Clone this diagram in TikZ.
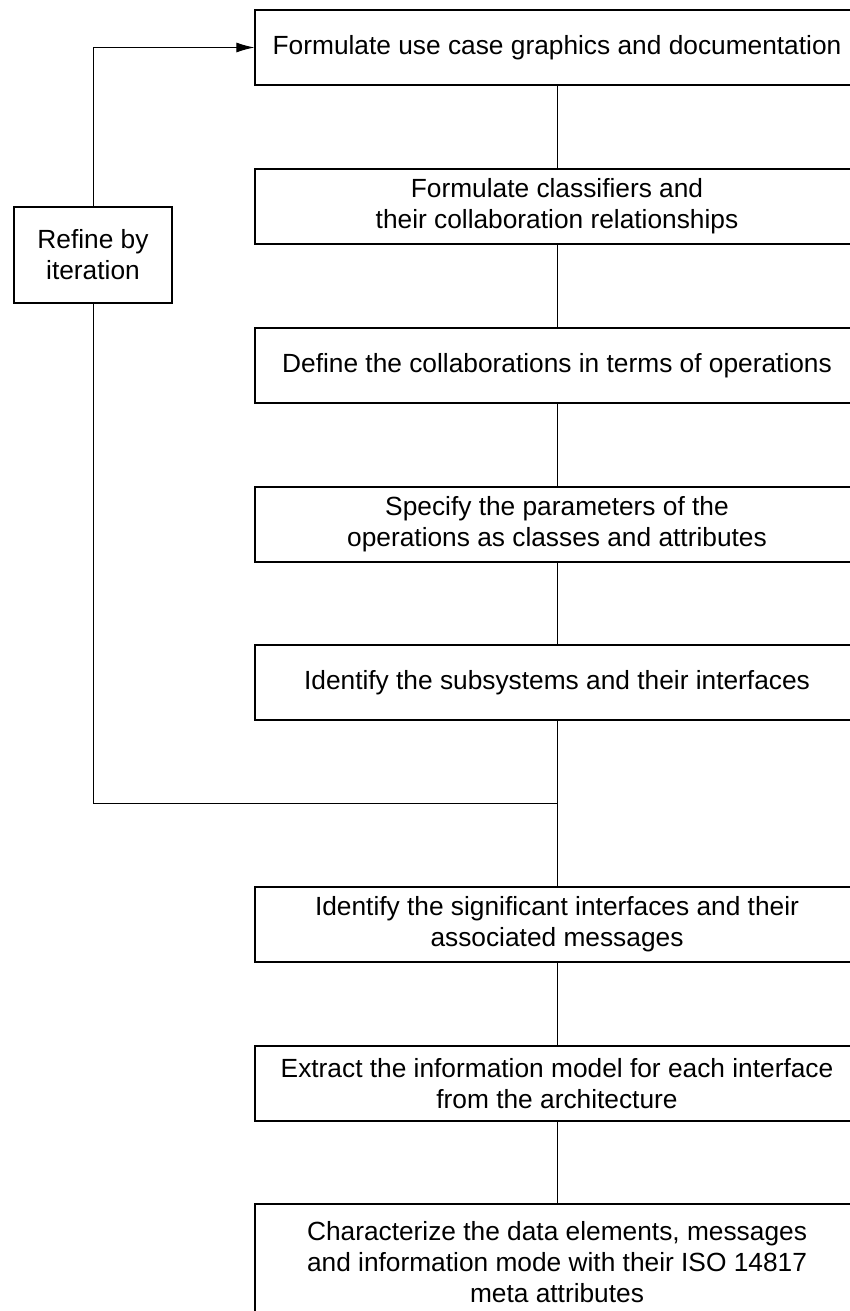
\documentclass[tikz,border=0pt]{standalone}
\usepackage{fontspec}
\setmainfont{Liberation Sans}
\usetikzlibrary{arrows.meta}
\tikzset{
  stepbox/.style={draw,line width=1.3pt,minimum width=604pt,minimum height=75pt,align=center,inner sep=0pt,font=\fontsize{26.3}{31}\selectfont},
  refinebox/.style={draw,line width=1.3pt,minimum width=158pt,minimum height=96pt,align=center,inner sep=0pt,font=\fontsize{26.3}{31}\selectfont},
  flow/.style={line width=1pt}
}

\begin{document}
\begin{tikzpicture}[x=1pt,y=-1pt]
% Fix the page size and cut the boxes at the right edge
\useasboundingbox (0,0) rectangle (850,1311);
\clip (0,0) rectangle (850,1311);
% Draw the steps
\node[stepbox] (usecase) at (557,47.5) {Formulate use case graphics and documentation};
\node[stepbox] (classifiers) at (557,206.5) {Formulate classifiers and\\their collaboration relationships};
\node[stepbox] (collab) at (557,365.5) {Define the collaborations in terms of operations};
\node[stepbox] (params) at (557,524.5) {Specify the parameters of the\\operations as classes and attributes};
\node[stepbox] (subsys) at (557,682.5) {Identify the subsystems and their interfaces};
\node[stepbox] (sigif) at (557,924.5) {Identify the significant interfaces and their\\associated messages};
\node[stepbox] (infomodel) at (557,1083.5) {Extract the information model for each interface\\from the architecture};
\node[stepbox,minimum height=116pt] (dataelem) at (557,1262) {Characterize the data elements, messages\\and information mode with their ISO 14817\\meta attributes};
% Draw the iteration box
\node[refinebox] (refine) at (93,255) {Refine by\\iteration};
% Connect the steps
\draw[flow] (usecase) -- (classifiers);
\draw[flow] (classifiers) -- (collab);
\draw[flow] (collab) -- (params);
\draw[flow] (params) -- (subsys);
\draw[flow] (subsys) -- (sigif);
\draw[flow] (sigif) -- (infomodel);
\draw[flow] (infomodel) -- (dataelem);
% Draw the feedback loop
\coordinate (join) at (557,803);
\draw[flow] (refine.south) |- (join);
\draw[flow,-{Latex[length=18pt,width=10pt]}] (refine.north) |- (usecase.west);
\end{tikzpicture}
\end{document}
